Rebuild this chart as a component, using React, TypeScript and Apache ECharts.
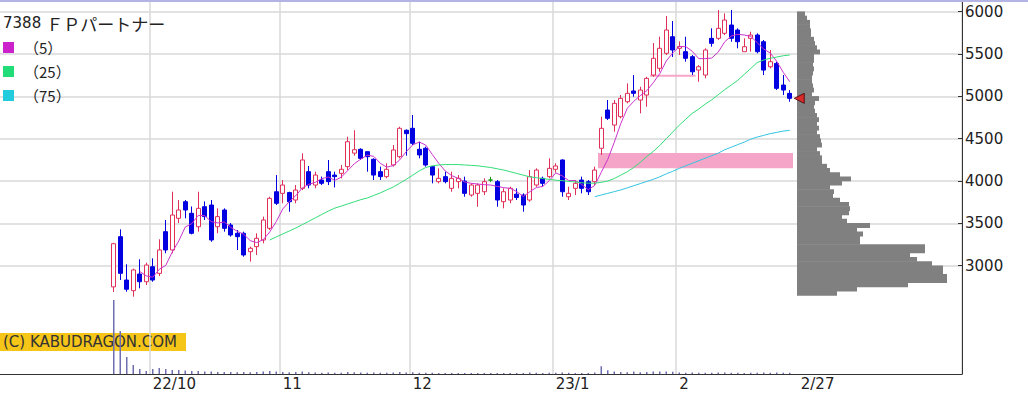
import React, { useEffect, useRef } from 'react';
import * as echarts from 'echarts';

const dates = [
  '2022/9/22','2022/9/26','2022/9/27','2022/9/28','2022/9/29','2022/9/30',
  '2022/10/3','2022/10/4','2022/10/5','2022/10/6','2022/10/7','2022/10/11','2022/10/12','2022/10/13','2022/10/14','2022/10/17',
  '2022/10/18','2022/10/19','2022/10/20','2022/10/21','2022/10/24','2022/10/25','2022/10/26','2022/10/27','2022/10/28','2022/10/31',
  '2022/11/1','2022/11/2','2022/11/4','2022/11/7','2022/11/8','2022/11/9','2022/11/10','2022/11/11','2022/11/14','2022/11/15',
  '2022/11/16','2022/11/17','2022/11/18','2022/11/21','2022/11/22','2022/11/24','2022/11/25','2022/11/28','2022/11/29','2022/11/30',
  '2022/12/1','2022/12/2','2022/12/5','2022/12/6','2022/12/7','2022/12/8','2022/12/9','2022/12/12','2022/12/13','2022/12/14',
  '2022/12/15','2022/12/16','2022/12/19','2022/12/20','2022/12/21','2022/12/22','2022/12/23','2022/12/26','2022/12/27','2022/12/28',
  '2022/12/29','2022/12/30',
  '2023/1/4','2023/1/5','2023/1/6','2023/1/10','2023/1/11','2023/1/12','2023/1/13','2023/1/16','2023/1/17','2023/1/18',
  '2023/1/19','2023/1/20','2023/1/23','2023/1/24','2023/1/25','2023/1/26','2023/1/27','2023/1/30','2023/1/31',
  '2023/2/1','2023/2/2','2023/2/3','2023/2/6','2023/2/7','2023/2/8','2023/2/9','2023/2/10','2023/2/13','2023/2/14',
  '2023/2/15','2023/2/16','2023/2/17','2023/2/20','2023/2/21','2023/2/22','2023/2/24','2023/2/27'
];

const opens = [
  2750,3343,2831,2705,2902,2811,2988,2910,3402,3186,
  3560,3756,3619,3460,3697,3717,3461,3658,3481,3383,
  3383,3166,3225,3304,3442,3874,3855,3864,3776,3914,
  4111,3953,4012,4111,4071,4091,4170,4330,4375,4347,
  4257,4111,4052,4190,4288,4600,4623,4375,4387,4170,
  3993,4052,3914,3993,4000,3835,3855,3874,4012,3993,
  3756,3776,3845,3835,3776,3953,4032,4052,4139,4249,
  3815,3914,4012,3993,3993,4387,4839,4662,4760,4937,
  5064,4957,5016,5252,5332,5509,5705,5568,5528,5469,
  5311,5252,5686,5686,5745,5843,5784,5528,5686,5725,
  5646,5350,5390,5134,5036
];
const closes = [
  3260,2910,2722,2950,2811,3008,2831,3186,3186,3599,
  3658,3658,3383,3678,3580,3304,3580,3442,3363,3343,
  3127,3206,3324,3540,3796,3737,3953,3756,3894,4249,
  3953,4071,3973,3993,4052,4139,4465,4370,4268,4288,
  4071,4052,4139,4367,4623,4560,4446,4308,4190,4071,
  4032,3993,4032,4032,3855,3953,3953,3993,4012,3776,
  3874,3914,3806,3717,4052,4130,3973,4150,4178,3874,
  3855,3973,3914,3874,4130,4623,4741,4918,4977,5036,
  5036,5075,5213,5450,5568,5784,5548,5590,5450,5291,
  5350,5548,5627,5804,5902,5686,5646,5587,5725,5528,
  5311,5410,5095,5075,4977
];
const lows = [
  2690,2831,2693,2634,2733,2772,2811,2878,3147,3147,
  3504,3560,3370,3402,3540,3283,3383,3402,3343,3186,
  3107,3048,3127,3265,3422,3717,3737,3638,3737,3894,
  3914,3914,3953,3953,3925,4032,4130,4300,4249,4111,
  4012,4012,4032,4170,4268,4300,4426,4268,4170,3973,
  3973,3973,3874,3914,3815,3815,3697,3835,3990,3697,
  3678,3737,3776,3638,3756,3933,3933,4032,4100,3815,
  3776,3835,3855,3835,3953,4308,4721,4583,4741,4918,
  4996,4800,4878,5232,5291,5489,5465,5489,5410,5252,
  5173,5213,5587,5666,5725,5646,5568,5528,5528,5509,
  5252,5331,5075,5016,4937
];
const highs = [
  3270,3430,3017,2965,3076,3036,3087,3312,3540,3874,
  3776,3776,3700,3874,3760,3776,3678,3678,3504,3422,
  3402,3225,3383,3580,3815,4071,4012,3874,3953,4328,
  4178,4111,4052,4249,4111,4190,4524,4600,4387,4347,
  4269,4170,4210,4426,4642,4610,4780,4465,4406,4178,
  4150,4111,4111,4071,4052,3973,3973,4032,4050,4012,
  3914,3933,3914,3855,4130,4150,4052,4268,4210,4257,
  3933,4012,4052,4012,4170,4760,4957,4957,5016,5154,
  5252,5114,5232,5630,5705,5950,5890,5650,5705,5489,
  5370,5568,5804,6020,5980,6020,5804,5686,5764,5745,
  5666,5548,5410,5252,5075
];
const volumes = [
  7400,4300,1700,900,500,300,500,600,500,400,
  400,350,300,300,250,250,200,200,200,180,
  200,180,200,250,300,250,200,180,200,250,
  180,150,130,150,130,130,200,180,150,130,
  150,120,120,150,200,150,180,130,120,120,
  100,100,100,100,110,100,100,100,100,110,
  100,100,100,110,150,130,110,120,120,160,
  120,110,100,110,160,770,380,250,200,180,
  250,180,200,250,260,250,220,150,130,140,
  120,130,120,150,140,130,120,110,120,130,
  140,120,140,120,130
];

const ma5Start = 4;
const ma5 = [
  2931,2880,2864,2957,3004,3162,3292,3457,3497,3595,
  3591,3521,3505,3517,3454,3406,3371,3296,3273,3308,
  3399,3521,3670,3756,3827,3918,3961,3985,4028,4048,
  4008,4046,4124,4204,4259,4306,4292,4210,4164,4183,
  4250,4348,4427,4461,4425,4315,4209,4119,4064,4032,
  3989,3973,3965,3957,3953,3937,3922,3914,3876,3817,
  3873,3924,3936,4004,4097,4061,4006,4006,3959,3898,
  3949,4103,4256,4457,4678,4859,4942,5008,5067,5162,
  5268,5418,5513,5588,5588,5533,5446,5446,5453,5524,
  5646,5713,5733,5725,5709,5634,5559,5512,5414,5284,
  5174
];
const ma25Start = 24;
const ma25 = [
  3304,3340,3375,3410,3445,3485,3525,3565,3605,3645,
  3680,3705,3730,3755,3780,3800,3830,3860,3895,3930,
  3975,4020,4070,4120,4160,4180,4190,4195,4195,4195,
  4190,4185,4180,4170,4160,4145,4130,4110,4090,4070,
  4050,4040,4030,4020,4010,4005,3995,3990,3980,3975,
  3975,3985,4000,4030,4070,4110,4160,4220,4290,4350,
  4420,4500,4580,4660,4730,4800,4850,4910,4960,5020,
  5080,5134,5190,5260,5330,5400,5430,5450,5465,5480,
  5489
];
const ma75Start = 74;
const ma75 = [
  3815,3835,3855,3875,3895,3920,3945,3970,3995,4020,
  4050,4085,4115,4150,4180,4210,4240,4270,4300,4330,
  4370,4400,4430,4460,4495,4520,4540,4560,4575,4590,
  4600
];

// price-by-volume profile: lower edge of each 50-yen bin and its relative volume
const profileBinSize = 50;
const profileBins = [
  2650,2700,2750,2800,2850,2900,2950,3000,3050,3100,
  3150,3200,3250,3300,3350,3400,3450,3500,3550,3600,
  3650,3700,3750,3800,3850,3900,3950,4000,4050,4100,
  4150,4200,4250,4300,4350,4400,4450,4500,4550,4600,
  4650,4700,4750,4800,4850,4900,4950,5000,5050,5100,
  5150,5200,5250,5300,5350,5400,5450,5500,5550,5600,
  5650,5700,5750,5800,5850,5900,5950
];
const profileVolumes = [
  40,60,111,150,150,146,146,135,120,113,
  128,128,63,63,66,60,73,50,45,52,
  53,52,43,36,37,33,45,54,43,33,
  30,25,25,23,20,25,24,23,20,22,
  20,22,20,18,17,18,22,15,17,16,
  15,15,16,17,16,17,17,23,20,18,
  17,14,14,13,13,10,8
];

const monthTickIdx = [6, 26, 46, 68, 87];
const monthTickLabels = ['22/10', '11', '12', '23/1', '2'];
const lastLabel = '2/27';
const priceTicks = [3000, 3500, 4000, 4500, 5000, 5500, 6000];
const lastPrice = 4977;
const maNames = ['（5）', '（25）', '（75）'];
const titleCode = '7388';
const titleName = 'ＦＰパートナー';
const copyright = '(C) KABUDRAGON.COM';
// [first day index, last day index, upper price, lower price]
const gapBoxes = [
  [75, 104, 4330, 4150],
  [83, 89, 5255, 5232]
];

const padLeft = 17;
const padRight = 26;
const priceMin = 1721;
const priceMax = 6115;

export default function App() {
  const ref = useRef<HTMLDivElement>(null);

  useEffect(() => {
    if (!ref.current) return;
    const chart = echarts.init(ref.current, undefined, { renderer: 'svg' });
    const n = dates.length;
    const N = padLeft + n + padRight;
    const categories = Array.from({ length: N }, (_, k) => {
      const i = k - padLeft;
      return i >= 0 && i < n ? dates[i] : 'pad' + k;
    });
    const full = (vals: number[], start: number) =>
      Array.from({ length: N }, (_, k) => {
        const i = k - padLeft - start;
        return i >= 0 && i < vals.length ? vals[i] : '-';
      });
    const candleData = Array.from({ length: N }, (_, k) => {
      const i = k - padLeft;
      return i >= 0 && i < n ? [opens[i], closes[i], lows[i], highs[i]] : '-';
    });
    const tickMap = new Map<number, string>();
    monthTickIdx.forEach((i, j) => tickMap.set(i + padLeft, monthTickLabels[j]));
    const lastK = padLeft + n - 1;
    const font = 'DejaVu Sans, Noto Sans CJK JP, sans-serif';

    chart.setOption({
      animation: false,
      backgroundColor: '#ffffff',
      title: {
        text: '{a|' + titleCode + '} {b|' + titleName + '}',
        left: 3,
        top: 14,
        padding: 0,
        textStyle: {
          fontWeight: 'normal',
          rich: {
            a: { fontFamily: font, fontSize: 15, fontWeight: 'normal', color: '#222' },
            b: { fontFamily: 'Noto Sans CJK JP', fontSize: 17, fontWeight: 'normal', color: '#222' }
          }
        }
      },
      legend: {
        data: maNames,
        icon: 'rect',
        orient: 'vertical',
        left: 3,
        top: 40,
        padding: 0,
        itemWidth: 11,
        itemHeight: 11,
        itemGap: 9,
        selectedMode: false,
        textStyle: {
          fontFamily: 'Noto Sans CJK JP',
          fontSize: 15,
          lineHeight: 15,
          color: '#222',
          padding: [0, 0, 0, 5]
        }
      },
      graphic: [
        { type: 'rect', left: 0, top: 0, shape: { width: 1028, height: 2 }, style: { fill: '#b4b4e4' }, z: 10 },
        {
          type: 'group', left: 0, top: 333, z: 10,
          children: [
            { type: 'rect', shape: { x: 0, y: 0, width: 186, height: 18 }, style: { fill: '#f5c518' } },
            { type: 'text', x: 3, y: 9, style: { text: copyright, fill: '#333', font: '15px DejaVu Sans', verticalAlign: 'middle' } }
          ]
        }
      ],
      grid: [
        { left: 0, right: 66, top: 2, bottom: 25, outerBoundsMode: 'none' },
        { left: 797, width: 170, top: 2, bottom: 25, outerBoundsMode: 'none' }
      ],
      xAxis: [
        {
          type: 'category',
          gridIndex: 0,
          data: categories,
          boundaryGap: true,
          axisLine: { lineStyle: { color: '#333', width: 1 } },
          axisTick: { show: false },
          axisLabel: {
            interval: (idx: number) => tickMap.has(idx) || idx === lastK,
            formatter: (_v: string, idx: number) => (idx === lastK ? '{p|' + lastLabel + '}' : tickMap.get(idx) || ''),
            align: 'left',
            margin: 2,
            fontFamily: font,
            fontSize: 15,
            color: '#222',
            rich: { p: { padding: [0, 0, 0, 11], fontFamily: font, fontSize: 15, color: '#222' } }
          },
          splitLine: {
            show: true,
            interval: (idx: number) => tickMap.has(idx),
            lineStyle: { color: '#d9d9d9', width: 1.5 }
          }
        },
        { type: 'value', gridIndex: 1, min: 0, max: 170, show: false }
      ],
      yAxis: [
        {
          type: 'value',
          gridIndex: 0,
          position: 'right',
          min: priceMin,
          max: priceMax,
          axisLine: { show: true, lineStyle: { color: '#333', width: 1 } },
          axisTick: { show: true, inside: true, length: 4, customValues: priceTicks, lineStyle: { color: '#333' } },
          axisLabel: {
            customValues: priceTicks,
            formatter: (v: number) => String(v),
            margin: 3,
            fontFamily: font,
            fontSize: 15,
            color: '#222'
          },
          splitLine: { show: true, lineStyle: { color: '#d9d9d9', width: 1.5 } }
        },
        { type: 'value', gridIndex: 0, position: 'left', min: 0, max: 37200, show: false },
        { type: 'value', gridIndex: 1, min: priceMin, max: priceMax, show: false }
      ],
      series: [
        {
          type: 'custom',
          name: 'gap',
          xAxisIndex: 0,
          yAxisIndex: 0,
          data: gapBoxes.map(([a, b, top, bottom]) => [a + padLeft, b + padLeft, top, bottom]),
          encode: { x: [0, 1], y: [2, 3] },
          renderItem: (_params: any, api: any) => {
            const p1 = api.coord([api.value(0), api.value(2)]);
            const p2 = api.coord([api.value(1), api.value(3)]);
            const bw = api.size([1, 0])[0];
            return {
              type: 'rect',
              shape: { x: p1[0] - bw / 2, y: p1[1], width: p2[0] - p1[0] + bw, height: Math.max(2, p2[1] - p1[1]) },
              style: { fill: '#f5a6c8' }
            };
          },
          silent: true,
          z: 1
        },
        {
          type: 'candlestick',
          name: 'price',
          xAxisIndex: 0,
          yAxisIndex: 0,
          data: candleData,
          barWidth: 4.5,
          itemStyle: {
            color: '#ffffff',
            color0: '#0000e0',
            borderColor: '#e0305a',
            borderColor0: '#0000e0',
            borderColorDoji: '#119911',
            borderWidth: 1
          },
          z: 3
        },
        { type: 'line', name: maNames[0], data: full(ma5, ma5Start), showSymbol: false, symbol: 'none', color: '#cc22cc', lineStyle: { width: 1, color: '#cc33cc' }, z: 4 },
        { type: 'line', name: maNames[1], data: full(ma25, ma25Start), showSymbol: false, symbol: 'none', color: '#22dd77', lineStyle: { width: 1, color: '#33dd77' }, z: 4 },
        { type: 'line', name: maNames[2], data: full(ma75, ma75Start), showSymbol: false, symbol: 'none', color: '#22ccdd', lineStyle: { width: 1, color: '#33c4e0' }, z: 4 },
        {
          type: 'bar',
          name: 'volume',
          xAxisIndex: 0,
          yAxisIndex: 1,
          data: full(volumes, 0),
          barWidth: 1.5,
          itemStyle: { color: '#6e6eb0' },
          z: 2
        },
        {
          type: 'scatter',
          name: 'last',
          xAxisIndex: 0,
          yAxisIndex: 0,
          data: [[padLeft + n, lastPrice]],
          symbol: 'triangle',
          symbolRotate: 90,
          symbolSize: 10,
          symbolOffset: [3, 0],
          itemStyle: { color: '#ee1515', borderColor: '#440000', borderWidth: 1 },
          z: 6
        },
        {
          type: 'custom',
          name: 'profile',
          xAxisIndex: 1,
          yAxisIndex: 2,
          data: profileBins.map((lo, i) => [profileVolumes[i], lo, lo + profileBinSize]),
          encode: { x: 0, y: [1, 2] },
          renderItem: (_params: any, api: any) => {
            const base = api.coord([0, api.value(2)]);
            const end = api.coord([api.value(0), api.value(1)]);
            return {
              type: 'rect',
              shape: { x: base[0], y: base[1] - 0.3, width: end[0] - base[0], height: end[1] - base[1] + 0.6 },
              style: { fill: '#808080' }
            };
          },
          silent: true,
          z: 5
        }
      ]
    });
    return () => chart.dispose();
  }, []);

  return <div ref={ref} style={{ position: 'fixed', left: 0, top: 0, width: 1028, height: 399, background: '#fff' }} />;
}
